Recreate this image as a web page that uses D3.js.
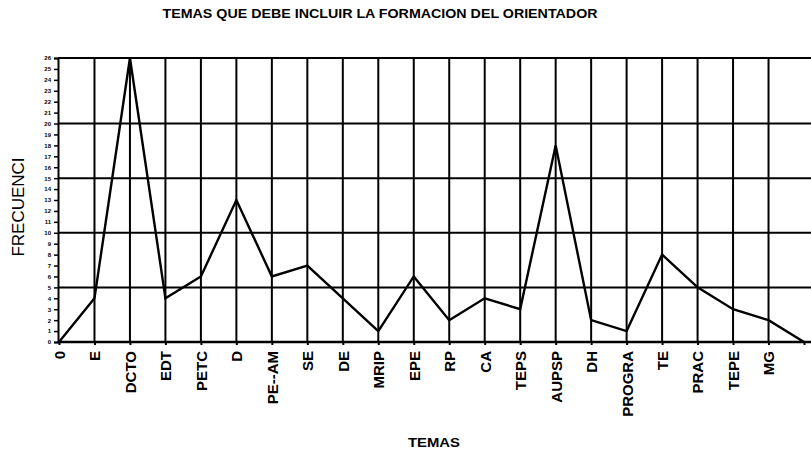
<!DOCTYPE html>
<html><head><meta charset="utf-8">
<script src="https://cdn.jsdelivr.net/npm/d3@7"></script>
<style>
body{margin:0;background:#fff;}
text{font-family:"Liberation Sans",Arial,sans-serif;fill:#000;}
</style></head>
<body><svg id="c" width="811" height="452"></svg>
<script>
const title = "TEMAS QUE DEBE INCLUIR LA FORMACION DEL ORIENTADOR";
const xTitle = "TEMAS";
const yTitle = "FRECUENCI";
const categories = ["0","E","DCTO","EDT","PETC","D","PE--AM","SE","DE","MRIP","EPE","RP","CA","TEPS","AUPSP","DH","PROGRA","TE","PRAC","TEPE","MG",""];
const values = [0,4,26,4,6,13,6,7,4,1,6,2,4,3,18,2,1,8,5,3,2,0];
const yTickValues = d3.range(0,27);
const gridValues = [0,5,10,15,20,26];

(function(){
const svg = d3.select("#c");
const pLeft = 58, pRight = 811, pTop = 58, pBottom = 342;
const x = d3.scalePoint().domain(d3.range(categories.length)).range([59, 804]);
const y = d3.scaleLinear().domain([0,26]).range([pBottom, pTop]);

// title
svg.append("text").attr("x",380).attr("y",18).attr("text-anchor","middle")
  .attr("font-size",13).attr("font-weight","bold").attr("textLength",435).attr("lengthAdjust","spacingAndGlyphs")
  .text(title);

// horizontal grid
svg.append("g").selectAll("line").data(gridValues).join("line")
  .attr("x1",pLeft).attr("x2",pRight).attr("y1",d=>y(d)).attr("y2",d=>y(d))
  .attr("stroke","#000").attr("stroke-width",d=>d===0?2.5:2);

// vertical grid
svg.append("g").selectAll("line").data(d3.range(1,categories.length-1)).join("line")
  .attr("x1",d=>x(d)).attr("x2",d=>x(d)).attr("y1",pTop).attr("y2",pBottom)
  .attr("stroke","#000").attr("stroke-width",2);

// y axis
const yAxis = d3.axisLeft(y).tickValues(yTickValues).tickSize(4).tickPadding(3).tickFormat(d3.format("d"));
const gy = svg.append("g").attr("transform",`translate(${pLeft},0)`).call(yAxis);
gy.select(".domain").attr("stroke","#000").attr("stroke-width",2);
gy.selectAll(".tick line").attr("stroke","#000").attr("stroke-width",1.5);
gy.selectAll(".tick text").attr("font-size",6).attr("font-weight","bold").attr("font-family","\"Liberation Sans\",Arial,sans-serif");

// x axis
const xAxis = d3.axisBottom(x).tickSize(3).tickPadding(6).tickFormat(i=>categories[i]);
const gx = svg.append("g").attr("transform",`translate(0,${pBottom})`).call(xAxis);
gx.select(".domain").remove();
gx.selectAll(".tick line").attr("stroke","#000").attr("stroke-width",2);
gx.selectAll(".tick text").attr("font-size",15).attr("font-weight","bold")
  .attr("font-family","\"Liberation Sans\",Arial,sans-serif")
  .attr("transform","rotate(-90)").attr("text-anchor","end")
  .attr("x",-9).attr("y",0).attr("dy","0.36em");

// line
svg.append("path").datum(values)
  .attr("d", d3.line().x((d,i)=>x(i)).y(d=>y(d)))
  .attr("fill","none").attr("stroke","#000").attr("stroke-width",2.4).attr("stroke-linejoin","miter");

// axis titles
svg.append("text").attr("x",434).attr("y",447).attr("text-anchor","middle")
  .attr("font-size",12).attr("font-weight","bold").attr("textLength",52).attr("lengthAdjust","spacingAndGlyphs").text(xTitle);
svg.append("text").attr("transform","translate(24,207) rotate(-90)").attr("text-anchor","middle")
  .attr("font-size",17).text(yTitle);
})();
</script></body></html>
